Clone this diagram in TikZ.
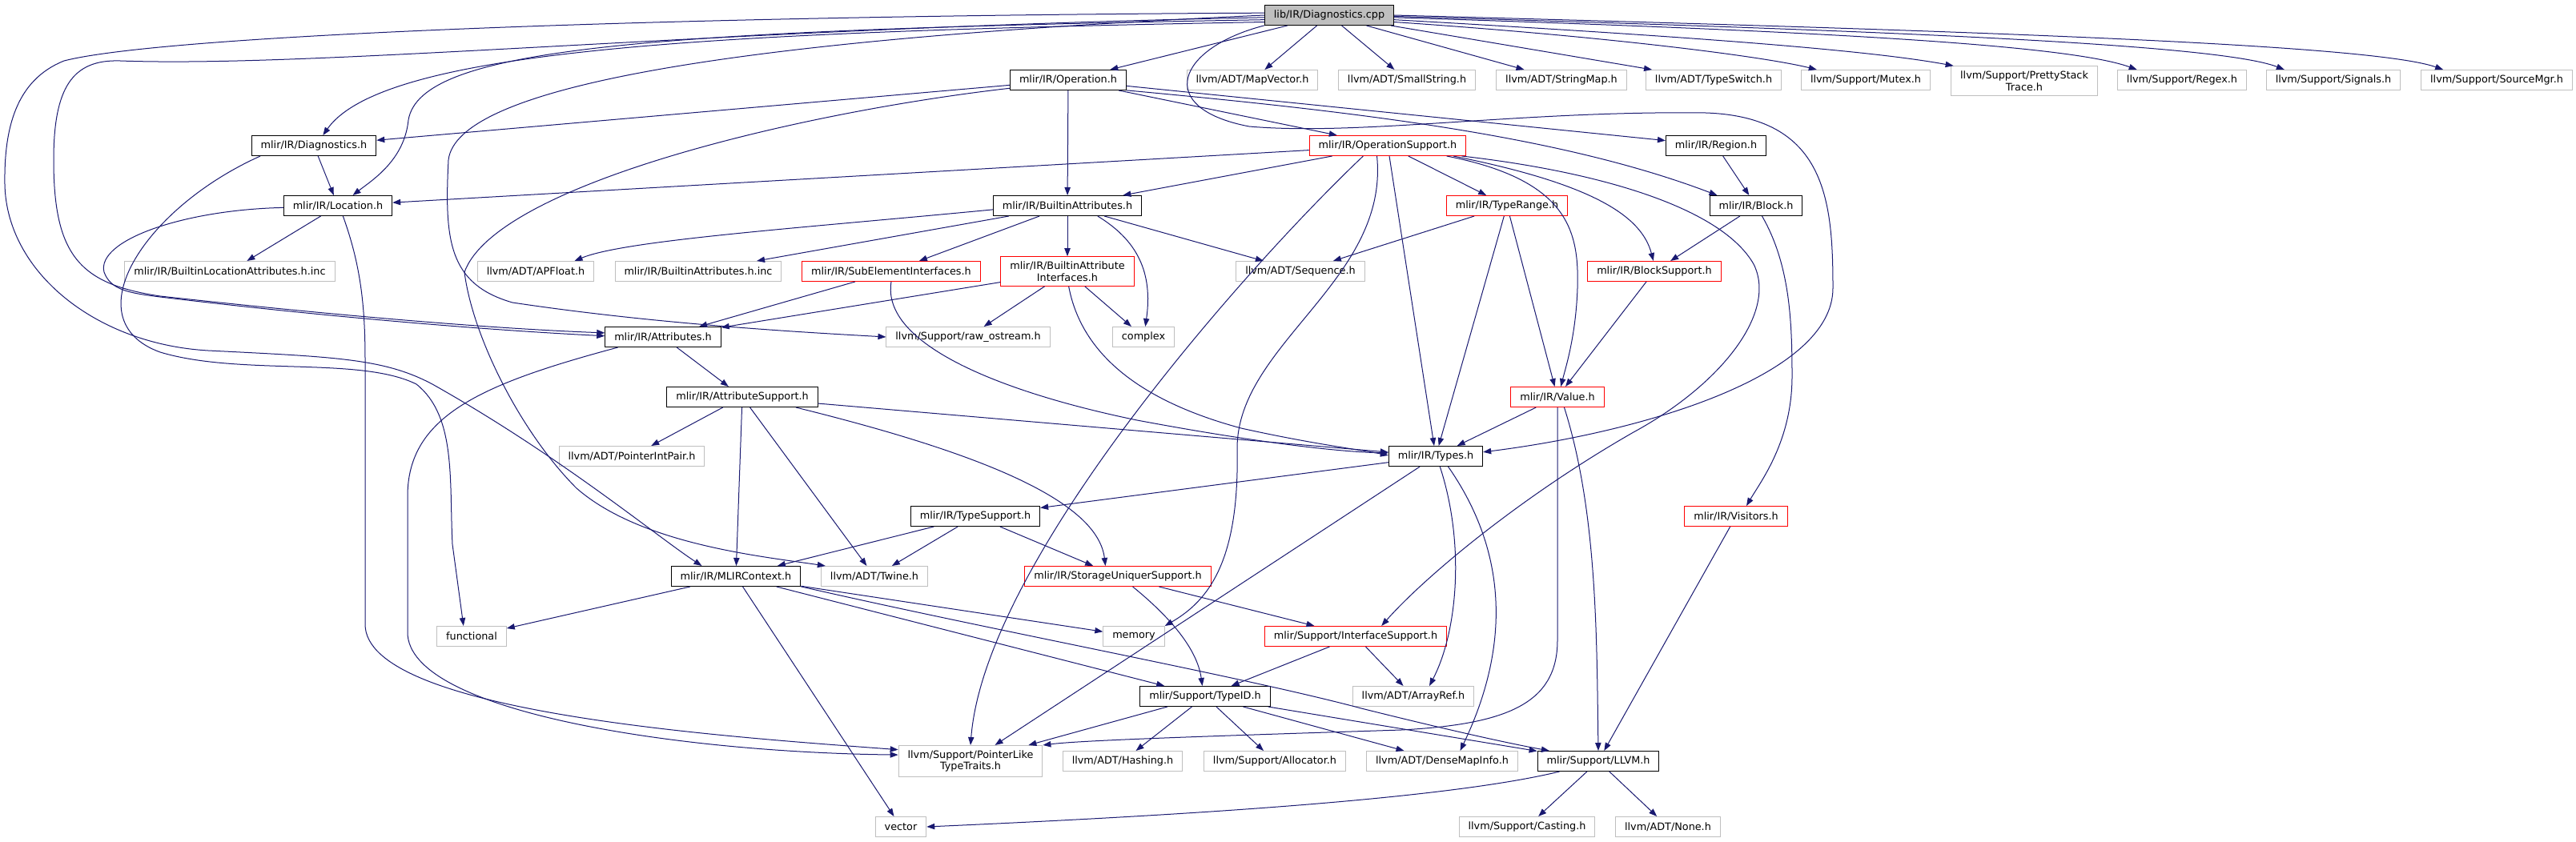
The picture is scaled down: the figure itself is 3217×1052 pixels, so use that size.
\documentclass[tikz,border=0pt]{standalone}
\usepackage{fontspec}
\setmainfont{DejaVu Sans}
\usetikzlibrary{arrows.meta}
\definecolor{EdgeNavy}{HTML}{191970}
\definecolor{BoxGrey}{HTML}{BFBFBF}
\definecolor{BoxRed}{HTML}{FF0000}

\begin{document}
\begin{tikzpicture}[
    x=0.75pt, y=-0.75pt,
    font=\fontsize{9.6}{11}\selectfont,
    hdr/.style={draw,rectangle,fill=white,line width=0.75pt,inner xsep=8.6pt,inner ysep=4.5pt,minimum height=18.75pt,align=center},
    docbox/.style={hdr,draw=black},
    redbox/.style={hdr,draw=BoxRed},
    extbox/.style={hdr,draw=BoxGrey},
    rootbox/.style={hdr,draw=black,fill=BoxGrey},
    dep/.style={-{Triangle[length=7.5pt,width=5.5pt]},EdgeNavy,line width=0.75pt}
  ]
    \useasboundingbox (0,0) rectangle (3217,1052);

    \node[rootbox] (root) at (1660,19) {lib/IR/Diagnostics.cpp};
    \node[docbox] (oper) at (1334,100) {mlir/IR/Operation.h};
    \node[extbox] (mapvec) at (1564,100) {llvm/ADT/MapVector.h};
    \node[extbox] (smallstr) at (1757,100) {llvm/ADT/SmallString.h};
    \node[extbox] (strmap) at (1950,100) {llvm/ADT/StringMap.h};
    \node[extbox] (tswitch) at (2140,100) {llvm/ADT/TypeSwitch.h};
    \node[extbox] (mutex) at (2330,100) {llvm/Support/Mutex.h};
    \node[extbox] (pretty) at (2528,101) {llvm/Support/PrettyStack\\Trace.h};
    \node[extbox] (regex) at (2725,100) {llvm/Support/Regex.h};
    \node[extbox] (signals) at (2914,100) {llvm/Support/Signals.h};
    \node[extbox] (srcmgr) at (3118,100) {llvm/Support/SourceMgr.h};
    \node[docbox] (diag) at (392,182) {mlir/IR/Diagnostics.h};
    \node[redbox] (opsup) at (1733,182) {mlir/IR/OperationSupport.h};
    \node[docbox] (region) at (2143,182) {mlir/IR/Region.h};
    \node[docbox] (loc) at (422,257) {mlir/IR/Location.h};
    \node[docbox] (battr) at (1333,257) {mlir/IR/BuiltinAttributes.h};
    \node[redbox] (trange) at (1882,257) {mlir/IR/TypeRange.h};
    \node[docbox] (block) at (2193,257) {mlir/IR/Block.h};
    \node[extbox] (bla) at (287,339) {mlir/IR/BuiltinLocationAttributes.h.inc};
    \node[extbox] (apfloat) at (669,339) {llvm/ADT/APFloat.h};
    \node[extbox] (bainc) at (872,339) {mlir/IR/BuiltinAttributes.h.inc};
    \node[redbox] (subel) at (1113,339) {mlir/IR/SubElementInterfaces.h};
    \node[redbox] (baif) at (1333,339) {mlir/IR/BuiltinAttribute\\Interfaces.h};
    \node[extbox] (seq) at (1624,339) {llvm/ADT/Sequence.h};
    \node[redbox] (blksup) at (2066,339) {mlir/IR/BlockSupport.h};
    \node[docbox] (attr) at (828,421) {mlir/IR/Attributes.h};
    \node[extbox] (rawos) at (1209,421) {llvm/Support/raw\_ostream.h};
    \node[extbox] (complex) at (1428,421) {complex};
    \node[docbox] (attrsup) at (927,496) {mlir/IR/AttributeSupport.h};
    \node[redbox] (value) at (1945,496) {mlir/IR/Value.h};
    \node[extbox] (pip) at (789,570) {llvm/ADT/PointerIntPair.h};
    \node[docbox] (types) at (1793,570) {mlir/IR/Types.h};
    \node[docbox] (tsup) at (1218,645) {mlir/IR/TypeSupport.h};
    \node[redbox] (visit) at (2168,645) {mlir/IR/Visitors.h};
    \node[docbox] (ctx) at (919,720) {mlir/IR/MLIRContext.h};
    \node[extbox] (twine) at (1092,720) {llvm/ADT/Twine.h};
    \node[redbox] (sus) at (1396,720) {mlir/IR/StorageUniquerSupport.h};
    \node[extbox] (func) at (589,795) {functional};
    \node[extbox] (memory) at (1416,795) {memory};
    \node[redbox] (ifsup) at (1693,795) {mlir/Support/InterfaceSupport.h};
    \node[docbox] (typeid) at (1505,870) {mlir/Support/TypeID.h};
    \node[extbox] (aref) at (1765,870) {llvm/ADT/ArrayRef.h};
    \node[extbox] (pltt) at (1212,951) {llvm/Support/PointerLike\\TypeTraits.h};
    \node[extbox] (hash) at (1402,951) {llvm/ADT/Hashing.h};
    \node[extbox] (alloc) at (1592,951) {llvm/Support/Allocator.h};
    \node[extbox] (dmi) at (1801,951) {llvm/ADT/DenseMapInfo.h};
    \node[docbox] (llvm) at (1996,951) {mlir/Support/LLVM.h};
    \node[extbox] (vector) at (1125,1033) {vector};
    \node[extbox] (cast) at (1907,1033) {llvm/Support/Casting.h};
    \node[extbox] (none) at (2083,1033) {llvm/ADT/None.h};

    \draw[dep] (root) -- (oper);
    \draw[dep] (root) -- (mapvec);
    \draw[dep] (root) -- (smallstr);
    \draw[dep] (root) -- (strmap);
    \draw[dep] (root) -- (tswitch);
    \draw[dep] (root.-6) .. controls (2000,45) and (2200,70) .. (mutex.168);
    \draw[dep] (root.-4) .. controls (2100,45) and (2330,62) .. (pretty.168);
    \draw[dep] (root.-2) .. controls (2250,38) and (2580,55) .. (regex.167);
    \draw[dep] (root.-1) .. controls (2350,38) and (2770,55) .. (signals.168);
    \draw[dep] (root.0) .. controls (2450,38) and (2960,55) .. (srcmgr.169);
    \draw[dep] (root.186) .. controls (900,40) and (480,60) .. (diag.49);
    \draw[dep] (root.184) .. controls (800,38) and (525,60) .. (510,150) .. controls (505,200) and (465,225) .. (loc.35);
    \draw[dep] (root.182) .. controls (900,35) and (400,85) .. (150,76) .. controls (90,74) and (67,110) .. (67,200) .. controls (67,320) and (100,355) .. (200,370) .. controls (400,392) and (600,410) .. (attr.176);
    \draw[dep] (root.178) .. controls (800,20) and (200,45) .. (80,76) .. controls (20,100) and (5,160) .. (6,230) .. controls (8,340) and (120,430) .. (260,438) .. controls (420,446) and (480,448) .. (540,480) .. controls (700,570) and (820,670) .. (ctx.163);
    \draw[dep] (root.180) .. controls (900,50) and (570,110) .. (560,200) .. controls (555,300) and (560,355) .. (640,378) .. controls (820,405) and (1000,415) .. (rawos.west);
    \draw[dep] (root.189) .. controls (1470,60) and (1440,135) .. (1560,158) .. controls (1700,170) and (1900,138) .. (2130,141) .. controls (2280,146) and (2289,250) .. (2289,360) .. controls (2289,470) and (2050,540) .. (types.5);

    \draw[dep] (oper) -- (diag);
    \draw[dep] (oper.188) .. controls (1000,140) and (620,230) .. (580,340) .. controls (590,420) and (650,540) .. (720,610) .. controls (800,680) and (950,695) .. (twine.168);
    \draw[dep] (oper) -- (battr);
    \draw[dep] (oper) -- (opsup);
    \draw[dep] (oper) -- (region);
    \draw[dep] (oper.-10) .. controls (1700,140) and (1950,170) .. (block.165);

    \draw[dep] (opsup) -- (loc);
    \draw[dep] (opsup) -- (battr);
    \draw[dep] (opsup.203) .. controls (1560,330) and (1230,700) .. (pltt.north);
    \draw[dep] (opsup.224) .. controls (1735,350) and (1545,430) .. (1545,560) .. controls (1548,700) and (1510,750) .. (memory.north east);
    \draw[dep] (opsup) -- (types);
    \draw[dep] (opsup) -- (trange);
    \draw[dep] (opsup.-9) .. controls (1990,230) and (2050,270) .. (blksup.95);
    \draw[dep] (opsup.-10) .. controls (1960,225) and (1972,290) .. (1970,360) .. controls (1968,420) and (1955,460) .. (value.72);
    \draw[dep] (opsup.-8) .. controls (2000,215) and (2150,260) .. (2190,330) .. controls (2220,390) and (2150,480) .. (2040,540) .. controls (1900,620) and (1780,720) .. (ifsup.22);

    \draw[dep] (battr.183) .. controls (1000,285) and (780,300) .. (apfloat.15);
    \draw[dep] (battr) -- (bainc);
    \draw[dep] (battr) -- (subel);
    \draw[dep] (battr) -- (baif);
    \draw[dep] (battr.-19) .. controls (1420,300) and (1440,340) .. (complex.80);
    \draw[dep] (battr) -- (seq);

    \draw[dep] (trange) -- (seq);
    \draw[dep] (trange) -- (types);
    \draw[dep] (trange) -- (value);
    \draw[dep] (region) -- (block);
    \draw[dep] (block) -- (blksup);
    \draw[dep] (block.-60) .. controls (2235,330) and (2238,400) .. (2238,470) .. controls (2238,550) and (2200,600) .. (visit.45);
    \draw[dep] (blksup) -- (value);

    \draw[dep] (subel) -- (attr);
    \draw[dep] (subel.south) .. controls (1100,430) and (1250,490) .. (1420,525) .. controls (1580,555) and (1680,565) .. (types.176);
    \draw[dep] (baif) -- (attr);
    \draw[dep] (baif) -- (rawos);
    \draw[dep] (baif) -- (complex);
    \draw[dep] (baif.-85) .. controls (1350,440) and (1420,500) .. (1550,535) .. controls (1640,555) and (1700,562) .. (types.179);

    \draw[dep] (attr) -- (attrsup);
    \draw[dep] (attr.193) .. controls (600,480) and (509,520) .. (509,620) -- (509,790) .. controls (509,890) and (850,940) .. (pltt.175);
    \draw[dep] (attrsup) -- (pip);
    \draw[dep] (attrsup) -- (ctx);
    \draw[dep] (attrsup) -- (twine);
    \draw[dep] (attrsup) -- (types);
    \draw[dep] (attrsup.-11) .. controls (1200,560) and (1370,620) .. (sus.140);

    \draw[dep] (value) -- (types);
    \draw[dep] (value.south) -- (1945,800) .. controls (1945,880) and (1880,905) .. (1750,912) .. controls (1500,920) and (1350,925) .. (pltt.north east);
    \draw[dep] (value.-57) .. controls (1995,640) and (1994,800) .. (llvm.north);

    \draw[dep] (types) -- (tsup);
    \draw[dep] (types) -- (pltt);
    \draw[dep] (types.-68) .. controls (1830,680) and (1820,790) .. (aref.33);
    \draw[dep] (types.-40) .. controls (1890,700) and (1880,820) .. (dmi.30);

    \draw[dep] (tsup) -- (ctx);
    \draw[dep] (tsup) -- (twine);
    \draw[dep] (tsup) -- (sus);
    \draw[dep] (visit) -- (llvm);

    \draw[dep] (ctx) -- (func);
    \draw[dep] (ctx) -- (vector);
    \draw[dep] (ctx) -- (typeid);
    \draw[dep] (ctx) -- (memory);
    \draw[dep] (ctx.-9) .. controls (1250,790) and (1550,845) .. (1700,885) .. controls (1800,910) and (1880,928) .. (llvm.168);

    \draw[dep] (sus.-35) .. controls (1460,770) and (1495,810) .. (typeid.105);
    \draw[dep] (sus) -- (ifsup);
    \draw[dep] (ifsup) -- (typeid);
    \draw[dep] (ifsup) -- (aref);

    \draw[dep] (typeid) -- (pltt);
    \draw[dep] (typeid) -- (hash);
    \draw[dep] (typeid) -- (alloc);
    \draw[dep] (typeid) -- (dmi);
    \draw[dep] (typeid) -- (llvm);

    \draw[dep] (diag) -- (loc);
    \draw[dep] (diag.191) .. controls (180,260) and (90,400) .. (200,440) .. controls (300,470) and (450,445) .. (520,480) .. controls (570,520) and (561,600) .. (565,680) -- (func.128);
    \draw[dep] (loc) -- (bla);
    \draw[dep] (loc.182) .. controls (230,262) and (120,300) .. (130,340) .. controls (138,362) and (160,366) .. (200,371) .. controls (400,395) and (600,412) .. (attr.179);
    \draw[dep] (loc.-64) .. controls (450,330) and (456,380) .. (456,450) -- (456,780) .. controls (456,890) and (900,920) .. (pltt.171);

    \draw[dep] (llvm.195) .. controls (1800,1000) and (1450,1020) .. (vector.east);
    \draw[dep] (llvm) -- (cast);
    \draw[dep] (llvm) -- (none);
  \end{tikzpicture}
\end{document}
